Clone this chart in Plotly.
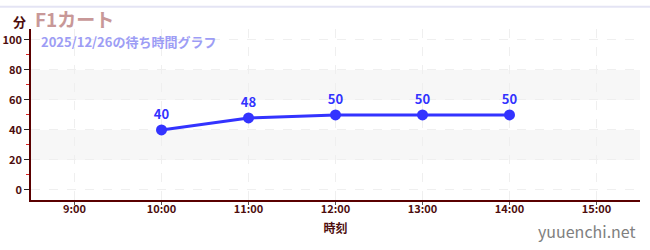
import plotly.graph_objects as go

times = ["2025-12-26 10:00", "2025-12-26 11:00", "2025-12-26 12:00", "2025-12-26 13:00", "2025-12-26 14:00"]
waits = [40, 48, 50, 50, 50]
tick_vals = ["2025-12-26 09:00", "2025-12-26 10:00", "2025-12-26 11:00", "2025-12-26 12:00",
             "2025-12-26 13:00", "2025-12-26 14:00", "2025-12-26 15:00"]
tick_text = ["9:00", "10:00", "11:00", "12:00", "13:00", "14:00", "15:00"]
y_ticks = [0, 20, 40, 60, 80, 100]
bands = [(20, 40), (60, 80)]

FONT = "Noto Sans CJK JP"
DARK = "#4d0d0d"
BLUE = "#3333ff"

fig = go.Figure()
fig.add_trace(go.Scatter(
    x=times, y=waits, mode="lines+markers+text",
    line=dict(color=BLUE, width=3),
    marker=dict(color=BLUE, size=11),
    text=[str(v) for v in waits], textposition="top center",
    textfont=dict(family=FONT, size=13, color=BLUE, weight="bold"),
    cliponaxis=False, hoverinfo="skip", showlegend=False,
))

for lo, hi in bands:
    fig.add_shape(type="rect", xref="paper", yref="y", x0=0, x1=1, y0=lo, y1=hi,
                  fillcolor="#f7f7f7", line_width=0, layer="below")

fig.update_layout(
    width=650, height=250,
    margin=dict(l=31, r=10, t=29, b=50),
    paper_bgcolor="white", plot_bgcolor="white",
    font=dict(family=FONT, color=DARK),
    xaxis=dict(
        range=["2025-12-26 08:30", "2025-12-26 15:30"],
        tickvals=tick_vals, ticktext=tick_text,
        tickfont=dict(family=FONT, size=11, color=DARK, weight="bold"),
        showgrid=True, gridcolor="#efefef", griddash="dash", gridwidth=1,
        showline=True, linecolor="#5a0000", linewidth=1.5,
        ticks="outside", ticklen=3, tickcolor="#555555", ticklabelstandoff=-5,
        zeroline=False, automargin=False,
        title=dict(text="時刻", font=dict(family=FONT, size=12, color=DARK, weight="bold"), standoff=10),
    ),
    yaxis=dict(
        range=[-6.7, 107.3],
        tickvals=y_ticks,
        tickfont=dict(family=FONT, size=11, color=DARK, weight="bold"),
        showgrid=True, gridcolor="#efefef", griddash="dash", gridwidth=1,
        showline=True, linecolor="#5a0000", linewidth=1.5,
        ticks="outside", ticklen=5, tickcolor="#222222",
        minor=dict(dtick=10, tick0=10, ticks="outside", ticklen=3, tickcolor="#dd2222", showgrid=False),
        zeroline=False, automargin=False,
    ),
)

fig.add_annotation(text="分", xref="paper", yref="paper", x=-0.005, y=1.0, xanchor="right", yanchor="bottom",
                   yshift=-4, showarrow=False, font=dict(family=FONT, size=13, color=DARK, weight="bold"))
fig.add_annotation(text="F1カート", xref="paper", yref="paper", x=0.003, y=1.0, xanchor="left", yanchor="bottom",
                   yshift=-5, showarrow=False, font=dict(family=FONT, size=19, color="#c89898", weight="bold"))
fig.add_annotation(text="2025/12/26の待ち時間グラフ", xref="paper", yref="paper", x=0.013, y=1.0,
                   xanchor="left", yanchor="top", yshift=-1, showarrow=False,
                   font=dict(family=FONT, size=13, color="#9d9df5", weight="bold"))
fig.add_annotation(text="yuuenchi.net", xref="paper", yref="paper", x=1.0, y=0, xanchor="right", yanchor="top",
                   xshift=-2, yshift=-17, showarrow=False, font=dict(family=FONT, size=16, color="#808080"))
fig.add_shape(type="line", xref="paper", yref="paper", x0=-0.06, x1=1.02, y0=1.13, y1=1.13,
              line=dict(color="#e4e4f4", width=2))

fig.write_html("out.html")
